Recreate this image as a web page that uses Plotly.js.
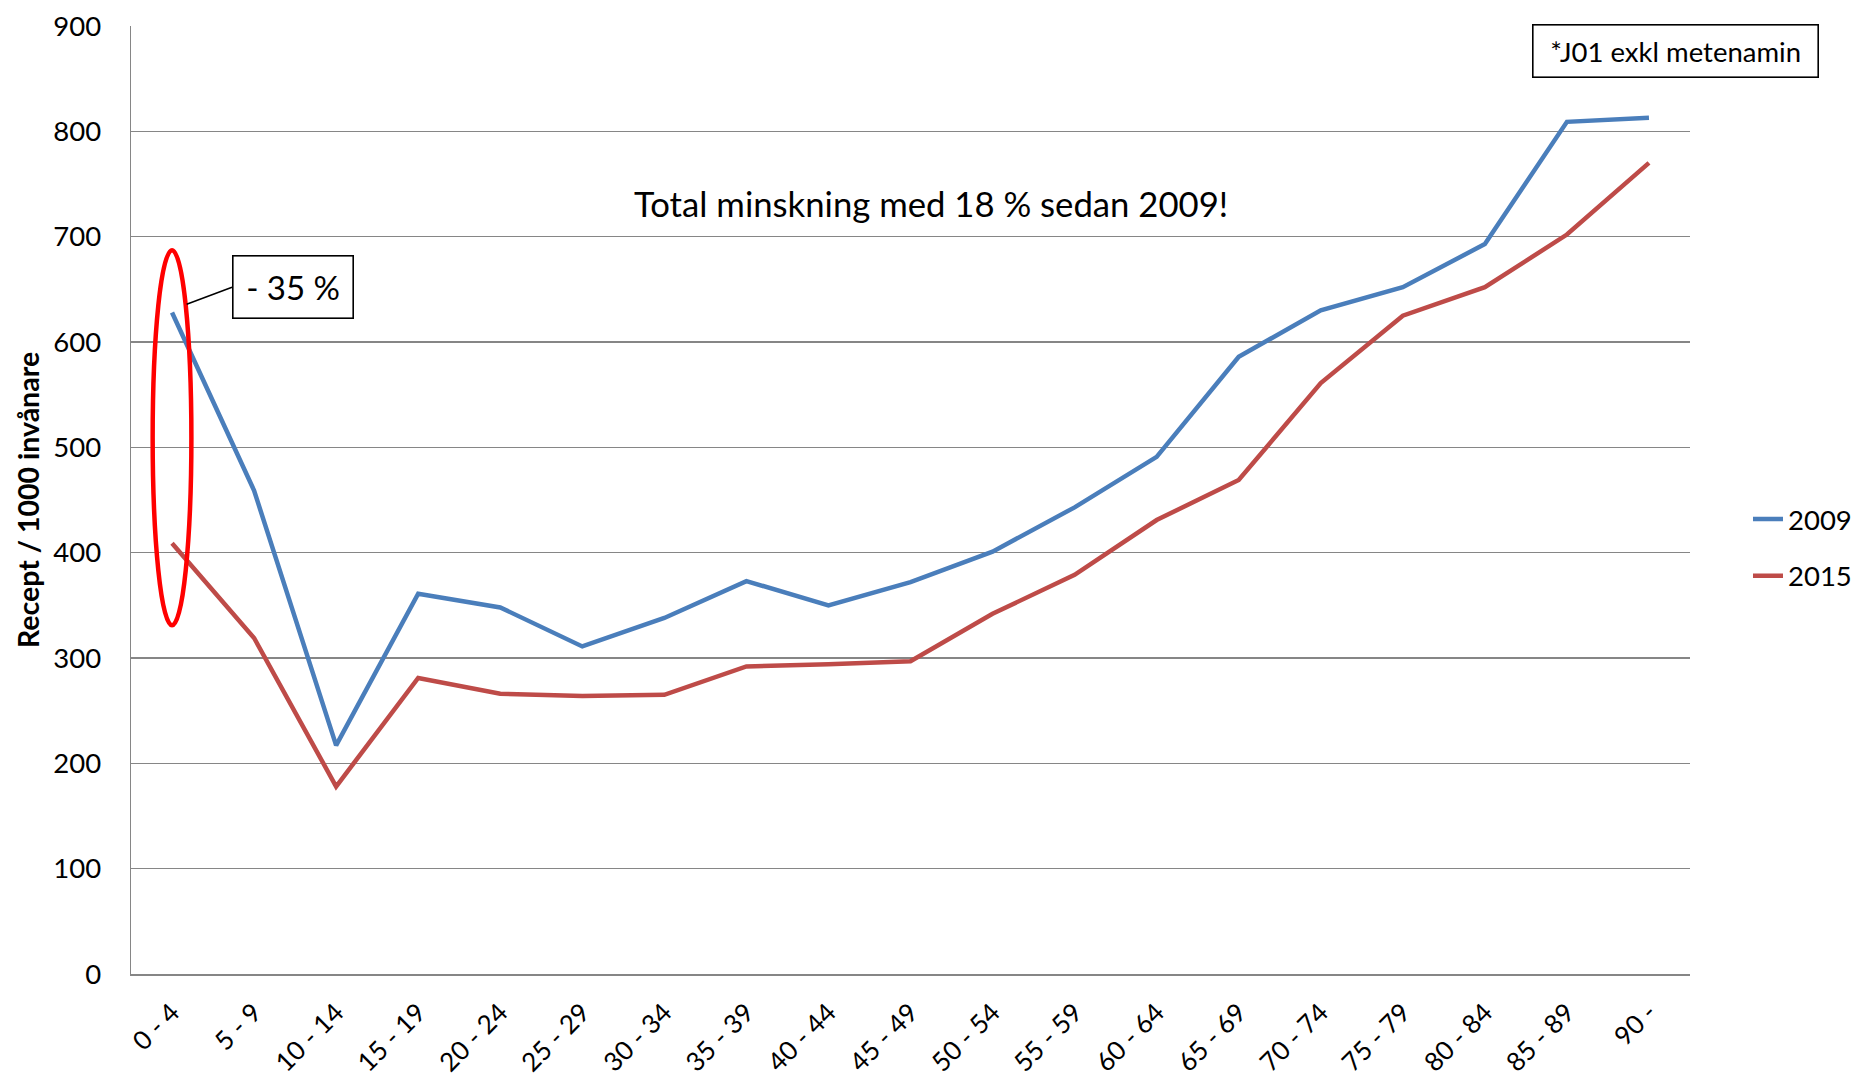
<!DOCTYPE html>
<html>
<head>
<meta charset="utf-8">
<script src="https://cdn.plot.ly/plotly-3.0.1.min.js"></script>
<style>
  html, body { margin: 0; padding: 0; background: #ffffff; }
  #chart { width: 1855px; height: 1078px; }
</style>
</head>
<body>
<div id="chart"></div>
<script>
// ---- Data ----
const ageGroups = ["0 - 4", "5 - 9", "10 - 14", "15 - 19", "20 - 24", "25 - 29", "30 - 34",
  "35 - 39", "40 - 44", "45 - 49", "50 - 54", "55 - 59", "60 - 64", "65 - 69",
  "70 - 74", "75 - 79", "80 - 84", "85 - 89", "90 -"];
const values2009 = [628, 459, 217, 361, 348, 311, 338, 373, 350, 372, 401, 443, 491, 586, 630, 652, 693, 809, 813];
const values2015 = [409, 319, 178, 281, 266, 264, 265, 292, 294, 297, 342, 379, 431, 469, 561, 625, 652, 702, 770];
const seriesNames = ["2009", "2015"];
const yTickValues = [0, 100, 200, 300, 400, 500, 600, 700, 800, 900];
const yAxisTitle = "Recept / 1000 invånare";
const centerNote = "Total minskning med 18 % sedan 2009!";
const boxNote = "*J01 exkl metenamin";
const changeNote = "- 35 %";

const FONT = "Lato, 'Open Sans', 'Liberation Sans', sans-serif";

const traces = [
  {
    x: ageGroups, y: values2009, name: seriesNames[0], type: "scatter", mode: "lines",
    line: { color: "#4A7EBB", width: 4.5 }, legendgroup: "a"
  },
  {
    x: ageGroups, y: values2015, name: seriesNames[1], type: "scatter", mode: "lines",
    line: { color: "#BE4B48", width: 4.5 }, legendgroup: "b"
  }
];

const layout = {
  width: 1855, height: 1078,
  margin: { l: 131, r: 165, t: 26, b: 104, pad: 0, autoexpand: false },
  paper_bgcolor: "#ffffff", plot_bgcolor: "#ffffff",
  font: { family: FONT, color: "#000000", size: 27 },
  showlegend: true,
  legend: {
    x: 1.0372, xanchor: "left", y: 0.4498, yanchor: "middle",
    font: { family: FONT, size: 27.5, color: "#000000" },
    traceorder: "grouped", tracegroupgap: 18,
    bgcolor: "rgba(0,0,0,0)", borderwidth: 0
  },
  xaxis: {
    type: "category", range: [-0.5, 18.5], fixedrange: true,
    showgrid: false, zeroline: false,
    showline: true, linecolor: "#868686", linewidth: 2,
    ticks: "", tickangle: -45, ticklabelstandoff: 11,
    tickfont: { family: FONT, size: 26, color: "#000000" }
  },
  yaxis: {
    range: [0, 900], tickvals: yTickValues, ticktext: yTickValues.map(String), fixedrange: true,
    showgrid: true, gridcolor: "#868686", gridwidth: 1.3,
    zeroline: false, showline: true, linecolor: "#868686", linewidth: 1.3,
    ticks: "", ticklabelstandoff: 23,
    tickfont: { family: FONT, size: 27.5, color: "#000000" },
    title: { text: "<b>" + yAxisTitle + "</b>", standoff: 5,
             font: { family: FONT, size: 28.5, color: "#000000" } }
  },
  shapes: [
    { type: "circle", xref: "x", yref: "y", x0: -0.236, x1: 0.236, y0: 331, y1: 687,
      line: { color: "#FF0000", width: 4.5 }, fillcolor: "rgba(0,0,0,0)", layer: "above" },
    { type: "line", xref: "paper", yref: "paper", x0: 0.0357, y0: 0.7065, x1: 0.0648, y1: 0.7245,
      line: { color: "#000000", width: 1.5 } }
  ],
  annotations: [
    { text: centerNote, xref: "paper", yref: "paper", x: 0.513, y: 0.813,
      xanchor: "center", yanchor: "middle", showarrow: false,
      font: { family: FONT, size: 34.7, color: "#000000" } },
    { text: boxNote, xref: "paper", yref: "paper", x: 0.9904, y: 0.9738,
      xanchor: "center", yanchor: "middle", showarrow: false,
      width: 280, height: 47, borderpad: 2, borderwidth: 1.6, bordercolor: "#000000",
      bgcolor: "#ffffff", align: "center", valign: "middle",
      font: { family: FONT, size: 27.5, color: "#000000" } },
    { text: changeNote, xref: "paper", yref: "paper", x: (292.5 - 131) / 1559, y: (974 - 286.5) / 948.3,
      xanchor: "center", yanchor: "middle", showarrow: false,
      width: 115, height: 57, borderpad: 2, borderwidth: 1.6, bordercolor: "#000000",
      bgcolor: "#ffffff", align: "center", valign: "middle",
      font: { family: FONT, size: 33, color: "#000000" } }
  ]
};

Plotly.newPlot("chart", traces, layout, { displayModeBar: false, staticPlot: true });
</script>
</body>
</html>
